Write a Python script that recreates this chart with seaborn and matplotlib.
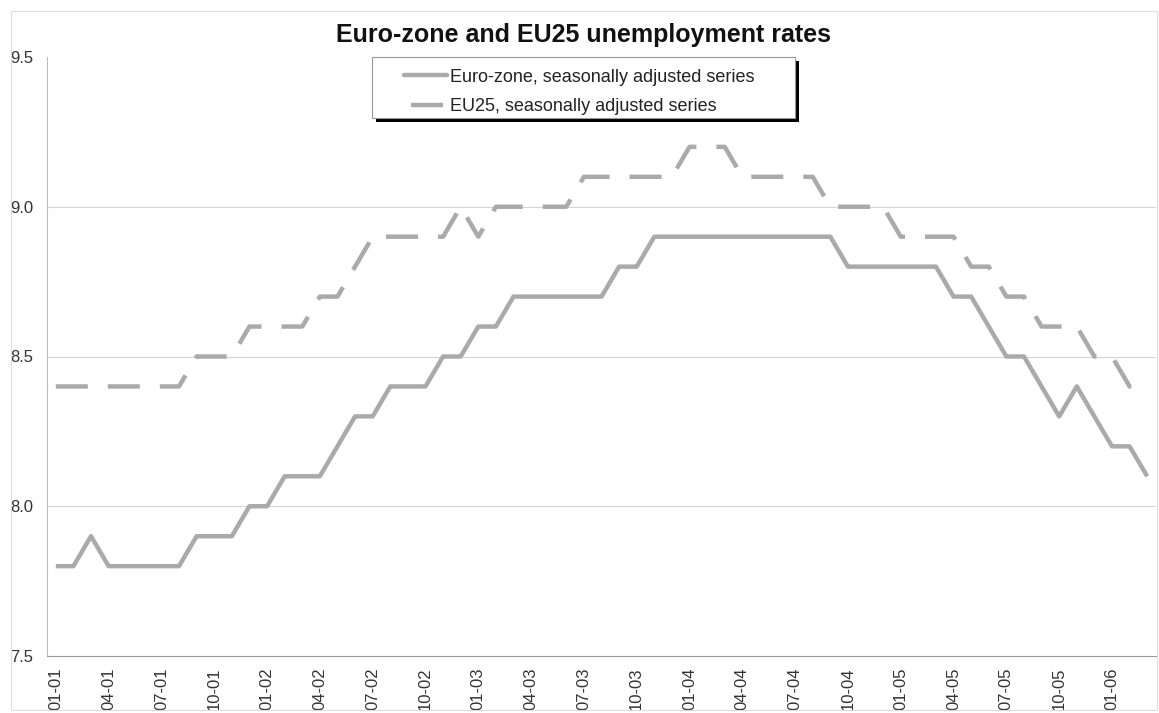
import numpy as np
import pandas as pd
import matplotlib
matplotlib.use("Agg")
import matplotlib.pyplot as plt
from matplotlib.patches import Rectangle
import seaborn as sns

# monthly rates, Jan 2001 .. Mar 2006
months = pd.date_range("2001-01-01", "2006-03-01", freq="MS")
euro_zone = [7.8, 7.8, 7.9, 7.8, 7.8, 7.8, 7.8, 7.8, 7.9, 7.9, 7.9, 8.0,
             8.0, 8.1, 8.1, 8.1, 8.2, 8.3, 8.3, 8.4, 8.4, 8.4, 8.5, 8.5,
             8.6, 8.6, 8.7, 8.7, 8.7, 8.7, 8.7, 8.7, 8.8, 8.8, 8.9, 8.9,
             8.9, 8.9, 8.9, 8.9, 8.9, 8.9, 8.9, 8.9, 8.9, 8.8, 8.8, 8.8,
             8.8, 8.8, 8.8, 8.7, 8.7, 8.6, 8.5, 8.5, 8.4, 8.3, 8.4, 8.3,
             8.2, 8.2, 8.1]
eu25 = [8.4, 8.4, 8.4, 8.4, 8.4, 8.4, 8.4, 8.4, 8.5, 8.5, 8.5, 8.6,
        8.6, 8.6, 8.6, 8.7, 8.7, 8.8, 8.9, 8.9, 8.9, 8.9, 8.9, 9.0,
        8.9, 9.0, 9.0, 9.0, 9.0, 9.0, 9.1, 9.1, 9.1, 9.1, 9.1, 9.1,
        9.2, 9.2, 9.2, 9.1, 9.1, 9.1, 9.1, 9.1, 9.0, 9.0, 9.0, 9.0,
        8.9, 8.9, 8.9, 8.9, 8.8, 8.8, 8.7, 8.7, 8.6, 8.6, 8.6, 8.5,
        8.5, 8.4, 8.4]
series_names = ["Euro-zone, seasonally adjusted series",
                "EU25, seasonally adjusted series"]
tick_labels = [m.strftime("%m-%y") for m in months]

df = pd.DataFrame({"i": np.arange(len(months)),
                   series_names[0]: euro_zone,
                   series_names[1]: eu25})
long = df.melt(id_vars="i", var_name="series", value_name="rate")

sns.set_style("white")
plt.rcParams["font.family"] = ["Liberation Sans", "DejaVu Sans"]

W, H = 1159, 713
fig = plt.figure(figsize=(W / 100, H / 100), dpi=100)
ax = fig.add_axes([47 / W, 1 - 656 / H, 1109 / W, 599 / H])

grey = "#aaaaaa"
dash = (7.2, 4.5)
sns.lineplot(data=long, x="i", y="rate", hue="series", style="series",
             palette=[grey, grey], dashes=[(1, 0), dash],
             linewidth=3.2, ax=ax, legend=False)

ax.set_xlim(-0.5, len(months) - 0.5)
ax.set_ylim(7.5, 9.5)
ax.set_yticks([7.5, 8.0, 8.5, 9.0, 9.5])
ax.set_yticklabels(["7.5", "8.0", "8.5", "9.0", "9.5"], fontsize=12, color="#333333")
for v in [8.0, 8.5, 9.0]:
    ax.axhline(v, color="#d4d4d4", lw=0.8, zorder=0)

# labels at category centres, tick marks at category boundaries
ax.set_xticks(np.arange(0, len(months), 3))
ax.set_xticklabels(tick_labels[::3], rotation=90, fontsize=12, color="#333333")
ax.set_xticks(np.arange(-0.5, len(months), 3), minor=True)
ax.tick_params(axis="x", which="major", length=0, pad=8)
ax.tick_params(axis="x", which="minor", length=5, color="#888888", direction="inout")
ax.tick_params(axis="y", length=4, color="#999999", direction="out", pad=6)
ax.set_xlabel("")
ax.set_ylabel("")

for s in ["top", "right"]:
    ax.spines[s].set_visible(False)
ax.spines["left"].set_color("#bbbbbb")
ax.spines["left"].set_linewidth(0.8)
ax.spines["bottom"].set_color("#999999")
ax.spines["bottom"].set_linewidth(0.8)

fig.text(584 / W, 1 - 35 / H, "Euro-zone and EU25 unemployment rates",
         ha="center", va="center", fontsize=18, fontweight="bold", color="#111111")

# legend box with a black drop shadow, drawn by hand
fig.patches.append(Rectangle((376 / W, 1 - 122 / H), 423 / W, 61 / H,
                             transform=fig.transFigure, facecolor="black",
                             edgecolor="black", lw=0, zorder=5))
fig.patches.append(Rectangle((372 / W, 1 - 118 / H), 423 / W, 61 / H,
                             transform=fig.transFigure, facecolor="white",
                             edgecolor="#999999", lw=0.8, zorder=6))
handles = [plt.Line2D([], [], color=grey, lw=3.2),
           plt.Line2D([], [], color=grey, lw=3.2, ls=(10.1, dash))]
leg = fig.legend(handles, series_names, loc="upper left",
                 bbox_to_anchor=(400 / W, 1 - 65 / H),
                 bbox_transform=fig.transFigure, frameon=False,
                 fontsize=13, handlelength=2.4, handletextpad=0.15,
                 labelspacing=0.68, borderpad=0.2, borderaxespad=0)
leg.set_zorder(7)
for t in leg.get_texts():
    t.set_color("#222222")

fig.patches.append(Rectangle((11 / W, 3 / H), 1146 / W, 699 / H,
                             transform=fig.transFigure, fill=False,
                             edgecolor="#dddddd", lw=0.8))

fig.savefig("out.png", dpi=100)
